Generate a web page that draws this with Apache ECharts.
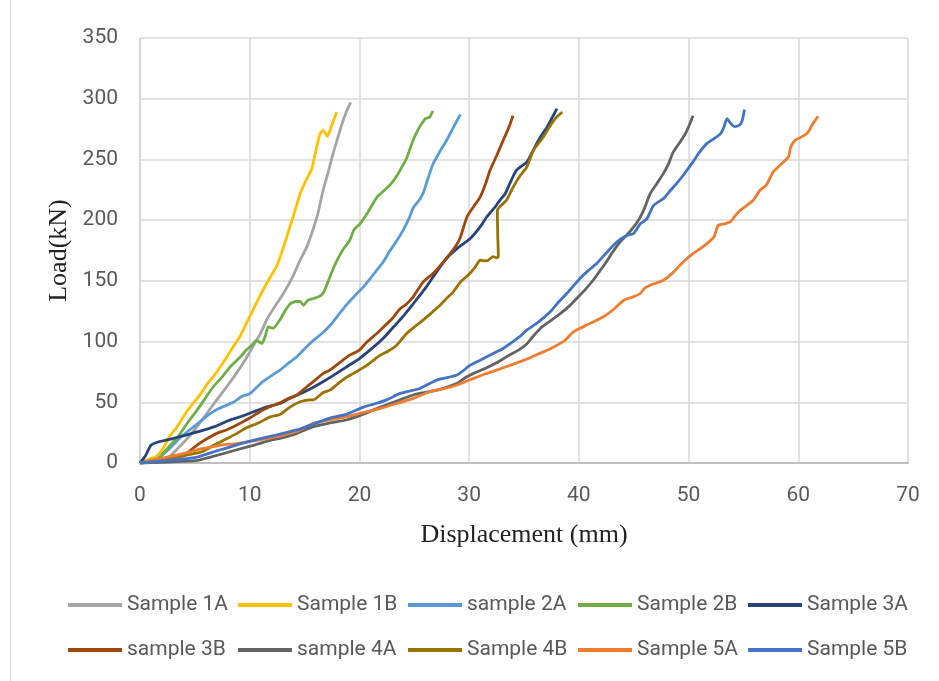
<!DOCTYPE html>
<html>
<head>
<meta charset="utf-8">
<script src="https://cdn.jsdelivr.net/npm/echarts@6/dist/echarts.min.js"></script>
<style>
html,body{margin:0;padding:0;background:#fff;}
#c{width:939px;height:681px;}
</style>
</head>
<body>
<div id="c"></div>
<script>
const seriesNames = ['Sample 1A','Sample 1B','sample 2A','Sample 2B','Sample 3A','sample 3B','sample 4A','Sample 4B','Sample 5A','Sample 5B'];
const seriesColors = ['#A5A5A5','#FFC000','#5B9BD5','#70AD47','#264478','#9E480E','#636363','#997300','#ED7D31','#4472C4'];
const xTicks = [0,10,20,30,40,50,60,70];
const yTicks = [0,50,100,150,200,250,300,350];

const sample1A = [[0,0],[1.5,1.5],[2.5,4],[3.3,10.7],[4.2,19],[5.2,30],[6.1,41],[7.0,52],[8.0,64],[8.8,74],[9.6,85],[10.3,96],[11.0,107],[11.55,118],[12.3,129],[13.1,140],[13.9,153],[14.6,167],[15.2,178],[15.65,189],[16.2,205],[16.7,225],[17.2,241],[17.6,255],[18.0,267],[18.4,279],[18.8,289],[19.2,297]];
const sample1B = [[0,0],[0.6,2.5],[1.5,5.5],[2.1,12],[2.7,22],[3.4,30],[3.95,38],[4.56,46],[5.2,53],[5.77,60],[6.2,66],[6.68,71],[7.3,79],[7.9,87],[8.5,96],[9.1,104],[9.7,115],[10.3,126],[10.9,137],[11.55,148],[12.0,155],[12.46,162],[12.9,173],[13.37,186],[14.0,204],[14.6,222],[15.2,234],[15.65,242],[16.0,256],[16.4,271],[16.7,274],[17.07,269],[17.47,278],[17.93,289]];
const sample2A = [[0,0],[1.5,3],[2.7,12],[3.8,22],[5.2,32],[6.0,38],[7.0,44],[8.5,50],[9.3,55],[10.0,57],[10.6,62],[11.2,67],[12.0,72],[12.76,76.5],[13.5,82],[14.3,87.5],[15.0,94],[15.8,101],[16.5,106],[17.3,113],[18.0,121],[18.8,130],[19.6,138],[20.36,145],[21.0,152],[21.6,159],[22.2,166],[22.8,175],[23.4,183],[24.0,192],[24.5,201],[24.9,210],[25.4,216],[25.8,222],[26.2,233],[26.7,246],[27.3,256],[27.96,266],[28.6,277],[29.2,287]];
const sample2B = [[0,0],[0.8,1.5],[1.76,4],[2.1,8],[2.9,16],[3.65,24],[4.4,34],[5.2,43.6],[6.0,54],[6.7,63],[7.5,71],[8.2,79],[9.0,86],[9.7,93],[10.3,98],[10.6,101],[11.1,98.5],[11.4,104],[11.7,112],[12.15,111],[12.76,118],[13.2,125],[13.67,131],[14.2,133],[14.6,133],[14.9,130],[15.3,134],[15.8,135.5],[16.3,137],[16.7,140],[17.3,153],[17.7,162],[18.2,171],[18.6,177],[19.1,183],[19.5,192],[20.05,197],[20.8,207],[21.6,219],[22.2,224],[22.8,229],[23.3,235],[23.7,241],[24.3,251],[24.9,266],[25.5,277],[25.8,281],[26.0,283.5],[26.4,285],[26.7,290]];
const sample3A = [[0,0],[0.5,6],[1.0,14.8],[1.46,16.7],[2.7,19.5],[4.0,22.5],[5.4,26],[6.8,30],[8.2,35.4],[9.3,38.5],[10.3,42],[11.5,46],[12.76,49],[13.6,53],[14.6,57],[15.5,61],[16.4,65.5],[17.6,72],[18.8,79],[20.0,86],[21.3,95.6],[22.2,103],[23.1,112],[24.0,121],[24.9,131],[25.5,138],[26.1,145],[26.7,153],[27.35,161.5],[28.1,170],[28.9,176.6],[30.1,184.8],[31.0,194.4],[31.6,202.6],[32.2,209],[32.8,216.3],[33.3,222],[33.7,230],[34.3,241],[35.25,247.8],[35.7,255],[36.15,263],[36.6,270],[37.1,276.6],[37.6,285],[38.0,291.8]];
const sample3B = [[0,0],[1.5,2],[2.7,5],[4.2,8],[5.2,14.8],[6.1,20],[7.0,24.4],[7.8,27],[9.1,32.6],[10.0,37],[11.2,43.6],[12.0,47],[12.76,49.5],[13.5,53],[14.3,56],[15.2,62.8],[15.8,67],[16.7,73.8],[17.3,76.5],[18.5,84.7],[19.1,88.8],[20.0,93],[20.7,99.8],[21.5,106],[22.2,112],[23.0,119],[23.7,127],[24.3,131],[24.9,136.8],[25.8,149],[26.7,156],[27.5,164],[28.26,172.5],[28.8,179],[29.2,186],[29.8,202.6],[30.4,211],[31.0,219],[31.5,230],[31.9,241],[32.5,253],[33.1,265.7],[33.6,276],[34.0,286]];
const sample4A = [[0,0],[2.5,0.8],[5.1,1.9],[6.5,5],[8.75,10.7],[10.5,15],[12.0,19],[12.76,20.3],[14.2,24],[15.8,30],[17.3,33],[18.8,35.4],[20.3,40],[21.9,46],[23.4,51],[24.9,56],[27.05,60],[28.9,65.6],[29.6,70],[30.4,73.8],[31.5,78],[32.5,82.5],[33.5,88],[34.5,93],[35.25,98],[35.8,104],[36.5,111],[37.4,117],[38.3,123],[39.1,129],[39.8,135.5],[40.5,142],[41.3,150.5],[41.9,158],[42.5,165.6],[43.1,174],[43.75,182],[44.4,188],[45.0,194.4],[45.5,201],[45.9,208],[46.5,221.8],[47.1,230],[47.7,238.3],[48.2,247],[48.6,256],[49.2,264],[49.7,271],[50.1,279],[50.4,286]];
const sample4B = [[0,0],[1.5,1],[3.3,4.5],[4.5,7],[5.7,9.5],[6.8,15],[7.9,20],[8.75,24],[9.7,29],[10.8,33],[11.85,38],[12.76,40],[13.67,46],[14.6,50.4],[15.5,52],[15.8,52],[16.7,58],[17.3,60],[18.0,65],[18.8,70.5],[19.5,74],[20.7,80.6],[21.9,88.8],[22.6,92],[23.4,97],[24.3,106.7],[25.0,112],[25.8,117.6],[26.6,124],[27.35,130],[28.0,136],[28.56,141],[29.2,149],[29.7,153],[30.1,156.5],[30.6,162],[31.0,167],[31.6,166.4],[32.2,170],[32.5,169],[32.66,170],[32.6,190],[32.57,208],[32.9,212],[33.4,216.3],[34.0,227],[34.6,236],[35.25,243.7],[35.85,257.5],[36.3,263],[36.76,268.4],[37.2,275],[37.7,282],[38.1,286],[38.5,289]];
const sample5A = [[0,0],[1.2,2.5],[2.67,5.2],[4.0,8],[5.3,11],[6.6,13.4],[7.5,15],[8.75,16],[10.5,18.5],[12.4,21.6],[14.2,25.8],[15.8,32.6],[17.3,35.5],[18.8,38],[20.3,41.5],[21.9,45],[23.4,49],[24.9,53.2],[26.4,58.7],[27.6,61],[28.9,64.2],[30.4,69.7],[31.5,73.5],[32.5,76.5],[33.6,80],[34.6,83.3],[35.5,86.5],[36.5,90.5],[37.4,94],[38.3,98.5],[38.8,101.5],[39.5,108],[40.8,114],[42.2,120.3],[43.1,126],[44.1,134],[45.0,137],[45.6,139.6],[46.0,144],[46.5,146.4],[47.7,150.5],[48.6,157],[49.5,165.6],[50.4,172.5],[51.3,178],[52.3,186],[52.7,195.8],[53.3,197],[53.8,198.5],[54.2,203],[54.7,208],[55.9,216.3],[56.5,224.6],[57.1,229],[57.7,239.6],[58.3,245],[59.1,252],[59.3,260],[59.7,265.7],[60.4,269],[60.9,272.5],[61.3,279],[61.8,285.4]];
const sample5B = [[0,0],[2.5,2],[5.1,4.7],[7.0,10],[8.75,14.8],[10.5,19],[12.4,23],[14.2,27],[15.8,32],[17.3,37],[18.8,40],[20.36,46],[21.5,49],[22.5,52],[23.7,57.3],[25.5,61.4],[27.05,68.3],[28.9,72.4],[30.1,80.6],[31.0,84.7],[32.5,91.6],[33.1,94.3],[34.6,104],[35.25,109.4],[36.3,116],[37.4,124.5],[38.1,132],[38.9,139.6],[40.1,152],[40.8,158],[41.6,164],[42.5,173],[43.45,182],[44.4,187.5],[45.0,189],[45.6,197],[46.2,201],[46.8,212],[47.7,217.7],[48.3,224],[48.9,230],[49.6,238],[50.4,248],[51.0,256],[51.66,263],[52.3,267],[52.9,271],[53.2,276],[53.5,283.5],[53.9,279],[54.2,277],[54.6,278],[54.85,281],[55.1,291]];

const seriesData = [sample1A,sample1B,sample2A,sample2B,sample3A,sample3B,sample4A,sample4B,sample5A,sample5B];

const chart = echarts.init(document.getElementById('c'), null, {renderer:'canvas'});
const labelFont = 'Roboto, "Noto Sans", sans-serif';
chart.setOption({
  animation:false,
  backgroundColor:'#ffffff',
  color: seriesColors,
  graphic:[{type:'line', shape:{x1:10.5,y1:0,x2:10.5,y2:681}, style:{stroke:'#d9d9d9', lineWidth:1}}],
  grid:{left:140, right:31, top:38, bottom:218},
  xAxis:{
    type:'value', min:xTicks[0], max:xTicks[xTicks.length-1], interval:10,
    name:'Displacement (mm)', nameLocation:'middle', nameGap:59,
    nameTextStyle:{fontFamily:'"Liberation Serif", "Times New Roman", serif', fontSize:26, color:'#222'},
    axisLine:{show:true, lineStyle:{color:'#bfbfbf', width:2}},
    axisTick:{show:false},
    axisLabel:{margin:22, fontFamily:labelFont, fontSize:21, color:'#595959'},
    splitLine:{show:true, lineStyle:{color:'#d9d9d9', width:1.5}}
  },
  yAxis:{
    type:'value', min:yTicks[0], max:yTicks[yTicks.length-1], interval:50,
    name:'Load(kN)', nameLocation:'middle', nameGap:68,
    nameTextStyle:{fontFamily:'"Liberation Serif", "Times New Roman", serif', fontSize:26, color:'#222'},
    axisLine:{show:true, lineStyle:{color:'#d0d0d0', width:1.5}},
    axisTick:{show:false},
    axisLabel:{margin:22, fontFamily:labelFont, fontSize:21, color:'#595959'},
    splitLine:{show:true, lineStyle:{color:'#d9d9d9', width:1.5}}
  },
  legend:{
    left:63, top:580, width:860,
    icon:'rect', itemWidth:54, itemHeight:4, itemGap:5,
    textStyle:{fontFamily:labelFont, fontSize:21, color:'#595959', width:106, lineHeight:40, overflow:'none'},
    data: seriesNames
  },
  series: seriesNames.map((n,i)=>({
    name:n, type:'line', data:seriesData[i], showSymbol:false, symbol:'none',
    smooth:0.2, lineStyle:{width:2.8, color:seriesColors[i]}, itemStyle:{color:seriesColors[i]}
  }))
});
</script>
</body>
</html>
